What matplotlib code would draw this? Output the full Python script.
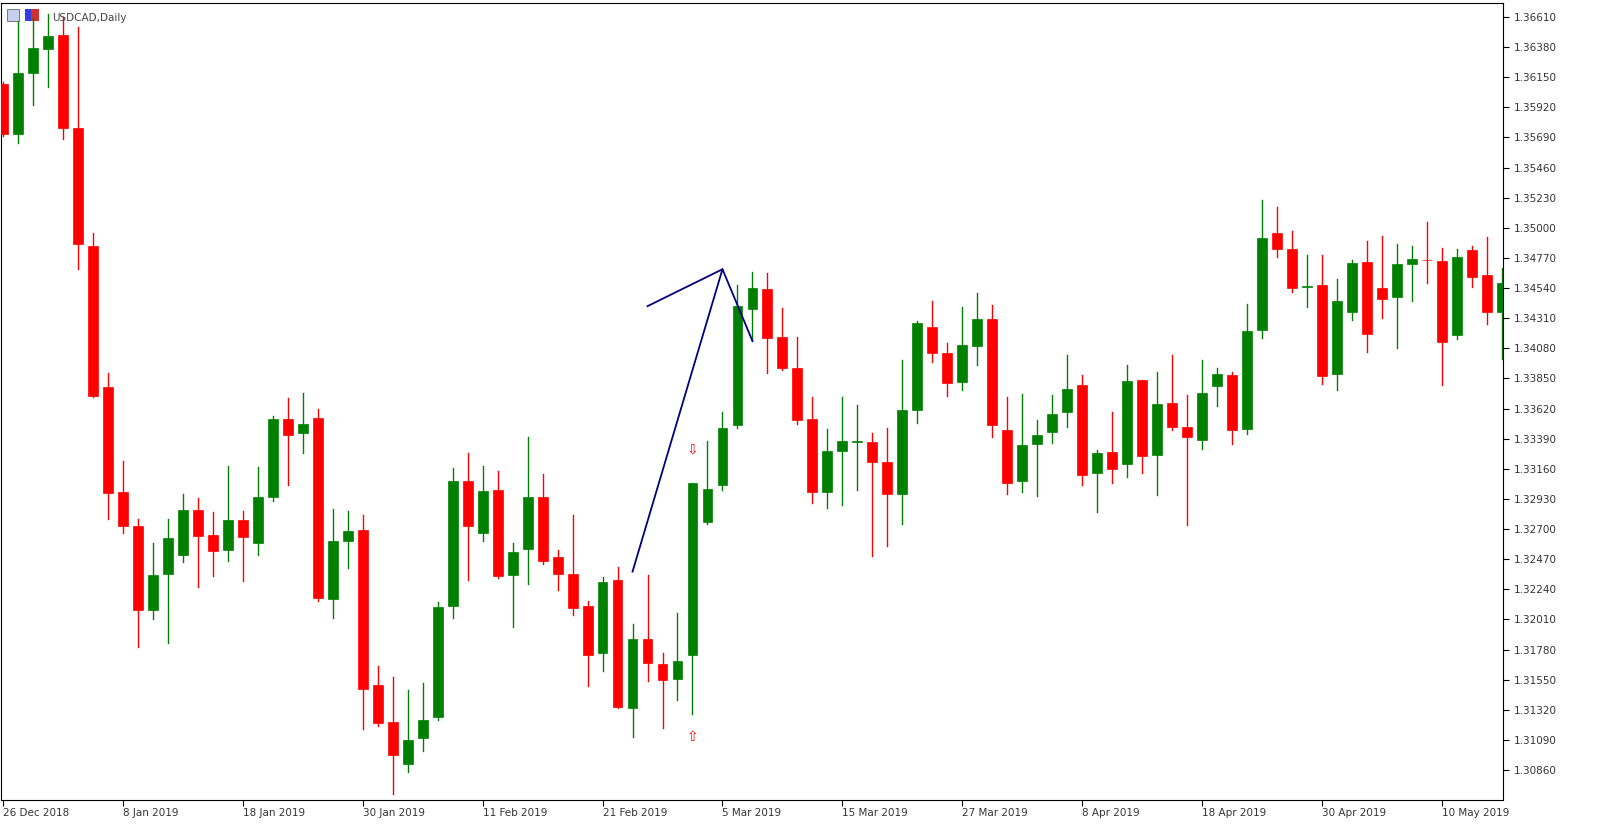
import matplotlib
matplotlib.use("Agg")
import matplotlib.pyplot as plt
from matplotlib.patches import Rectangle

opens = [1.36101,1.35714,1.36179,1.36367,1.36473,1.35764,1.34864,1.33784,1.32982,1.32727,
         1.32081,1.32359,1.32504,1.32849,1.32653,1.32539,1.32770,1.32590,1.32946,1.33537,
         1.33432,1.33549,1.32167,1.32610,1.32692,1.31510,1.31224,1.30903,1.31103,1.31267,
         1.32109,1.33068,1.32668,1.32997,1.32347,1.32547,1.32942,1.32488,1.32359,1.32109,
         1.31753,1.32312,1.31330,1.31858,1.31670,1.31553,1.31741,1.32754,1.33040,1.33494,
         1.34379,1.34535,1.34164,1.33929,1.33537,1.32982,1.33295,1.33361,1.33365,1.33213,
         1.32970,1.33608,1.34242,1.34042,1.33823,1.34097,1.34301,1.33455,1.33068,1.33350,
         1.33443,1.33592,1.33803,1.33127,1.33287,1.33193,1.33835,1.33263,1.33663,1.33483,
         1.33377,1.33792,1.33878,1.33467,1.34222,1.34958,1.34841,1.34547,1.34567,1.33886,
         1.34355,1.34739,1.34539,1.34473,1.34723,1.34755,1.34747,1.34183,1.34833,1.34637,
         1.34355]
highs = [1.36113,1.36582,1.36602,1.36633,1.36610,1.36535,1.34958,1.33890,1.33220,1.32778,
         1.32594,1.32774,1.32970,1.32939,1.32833,1.33185,1.32837,1.33177,1.33565,1.33702,
         1.33741,1.33616,1.32856,1.32841,1.32805,1.31651,1.31569,1.31471,1.31526,1.32140,
         1.33166,1.33283,1.33185,1.33142,1.32594,1.33400,1.33119,1.32539,1.32805,1.32152,
         1.32336,1.32414,1.31972,1.32347,1.31753,1.32062,1.33052,1.33373,1.33596,1.34567,
         1.34665,1.34657,1.34391,1.34164,1.33710,1.33463,1.33710,1.33647,1.33432,1.33471,
         1.33991,1.34285,1.34438,1.34117,1.34395,1.34500,1.34414,1.33706,1.33733,1.33530,
         1.33721,1.34027,1.33874,1.33306,1.33592,1.33952,1.33835,1.33901,1.34027,1.33721,
         1.33991,1.33929,1.33897,1.34422,1.35209,1.35162,1.34974,1.34790,1.34794,1.34606,
         1.34755,1.34896,1.34935,1.34876,1.34860,1.35044,1.34845,1.34837,1.34864,1.34927,
         1.34692]
lows = [1.35702,1.35651,1.35941,1.36078,1.35682,1.34684,1.33706,1.32774,1.32668,1.31796,
        1.32011,1.31827,1.32445,1.32254,1.32340,1.32453,1.32301,1.32504,1.32911,1.33036,
        1.33283,1.32148,1.32023,1.32402,1.31173,1.31197,1.30680,1.30845,1.31005,1.31240,
        1.32019,1.32308,1.32610,1.32328,1.31952,1.32281,1.32434,1.32238,1.32046,1.31498,
        1.31616,1.31334,1.31115,1.31537,1.31177,1.31396,1.31291,1.32739,1.33001,1.33471,
        1.34136,1.33890,1.33913,1.33502,1.32896,1.32860,1.32880,1.33001,1.32496,1.32567,
        1.32739,1.33510,1.33972,1.33713,1.33764,1.33956,1.33404,1.32970,1.32982,1.32954,
        1.33357,1.33483,1.33036,1.32833,1.33052,1.33099,1.33130,1.32958,1.33459,1.32731,
        1.33310,1.33639,1.33350,1.33428,1.34160,1.34778,1.34512,1.34395,1.33807,1.33764,
        1.34297,1.34054,1.34312,1.34081,1.34442,1.34578,1.33803,1.34152,1.34551,1.34265,
        1.33995]
closes = [1.35714,1.36179,1.36371,1.36465,1.35764,1.34880,1.33717,1.32974,1.32723,1.32081,
          1.32347,1.32633,1.32849,1.32645,1.32531,1.32770,1.32641,1.32946,1.33541,1.33420,
          1.33506,1.32175,1.32610,1.32684,1.31475,1.31220,1.30974,1.31087,1.31244,1.32101,
          1.33064,1.32723,1.32989,1.32340,1.32524,1.32942,1.32453,1.32359,1.32097,1.31741,
          1.32297,1.31342,1.31858,1.31674,1.31545,1.31694,1.33052,1.33009,1.33475,1.34402,
          1.34543,1.34160,1.33933,1.33533,1.32982,1.33295,1.33373,1.33369,1.33209,1.32970,
          1.33608,1.34273,1.34042,1.33819,1.34105,1.34301,1.33498,1.33048,1.33342,1.33420,
          1.33576,1.33772,1.33115,1.33279,1.33162,1.33827,1.33256,1.33655,1.33483,1.33404,
          1.33741,1.33882,1.33459,1.34214,1.34919,1.34841,1.34539,1.34559,1.33870,1.34442,
          1.34735,1.34191,1.34457,1.34723,1.34762,1.34751,1.34132,1.34778,1.34622,1.34355,
          1.34582]

date_ticks = [0, 8, 16, 24, 32, 40, 48, 56, 64, 72, 80, 88, 96]
date_labels = ['26 Dec 2018', '8 Jan 2019', '18 Jan 2019', '30 Jan 2019', '11 Feb 2019',
               '21 Feb 2019', '5 Mar 2019', '15 Mar 2019', '27 Mar 2019', '8 Apr 2019',
               '18 Apr 2019', '30 Apr 2019', '10 May 2019']
price_ticks = [1.30860, 1.31090, 1.31320, 1.31550, 1.31780, 1.32010, 1.32240, 1.32470,
               1.32700, 1.32930, 1.33160, 1.33390, 1.33620, 1.33850, 1.34080, 1.34310,
               1.34540, 1.34770, 1.35000, 1.35230, 1.35460, 1.35690, 1.35920, 1.36150,
               1.36380, 1.36610]

# drawn pattern line (bar index, price)
pattern_x = [42, 48, 50]
pattern_y = [1.32375, 1.34684, 1.34136]
pattern2_x = [43, 48]
pattern2_y = [1.34402, 1.34684]
arrow_idx = 46
arrow_down_y = 1.33306
arrow_up_y = 1.31115

fig = plt.figure(figsize=(16, 8.35), dpi=100)
ax = fig.add_axes([1/1600, 1 - 800/835, 1502/1600, 797/835])

UP, DN = '#008000', '#ff0000'
w = 0.66
for i, (o, h, l, c) in enumerate(zip(opens, highs, lows, closes)):
    col = UP if c >= o else DN
    ax.plot([i, i], [l, h], color=col, lw=1.0, zorder=2)
    bot, top = min(o, c), max(o, c)
    hgt = max(top - bot, 0.00004)
    ax.add_patch(Rectangle((i - w/2, bot), w, hgt, facecolor=col, edgecolor=col, lw=0.5, zorder=3))

ax.plot(pattern_x, pattern_y, color='#000080', lw=1.3, zorder=4)
ax.plot(pattern2_x, pattern2_y, color='#000080', lw=1.3, zorder=4)
ax.text(arrow_idx, arrow_down_y, '⇩', color='red', fontsize=10, ha='center', va='center', zorder=5)
ax.text(arrow_idx, arrow_up_y, '⇧', color='red', fontsize=10, ha='center', va='center', zorder=5)

ax.set_xlim(-0.13, 100.07)
ax.set_ylim(1.30631, 1.36717)
ax.yaxis.tick_right()
ax.set_yticks(price_ticks)
ax.set_yticklabels([f'{p:.5f}' for p in price_ticks])
ax.set_xticks(date_ticks)
ax.set_xticklabels(date_labels, ha='left')
ax.tick_params(axis='both', labelsize=7.5, length=4, colors='black', labelcolor='#333333')
ax.tick_params(axis='x', pad=2)
for s in ax.spines.values():
    s.set_linewidth(0.8)

ax.text(0.034, 0.988, 'USDCAD,Daily', transform=ax.transAxes, fontsize=7.5,
        color='#444444', va='top', ha='left')
ax.add_patch(Rectangle((0.004, 0.978), 0.008, 0.014, transform=ax.transAxes,
                       facecolor='#c8d0f0', edgecolor='#666666', lw=0.6))
ax.add_patch(Rectangle((0.016, 0.978), 0.004, 0.014, transform=ax.transAxes,
                       facecolor='#3040e0', edgecolor='none'))
ax.add_patch(Rectangle((0.020, 0.978), 0.005, 0.014, transform=ax.transAxes,
                       facecolor='#d03030', edgecolor='none'))

fig.savefig('out.png', dpi=100)
